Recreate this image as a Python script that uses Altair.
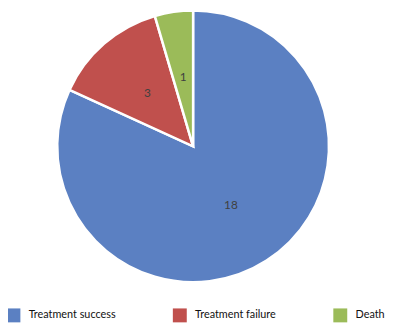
import altair as alt
import pandas as pd

categories = ["Treatment success", "Treatment failure", "Death"]
values = [18, 3, 1]
colors = ["#5B80C2", "#C0504D", "#9BBB59"]

df = pd.DataFrame({"category": categories, "value": values, "order": [0, 1, 2]})

base = alt.Chart(df).encode(
    theta=alt.Theta("value:Q", stack=True),
    order=alt.Order("order:Q"),
)

CX, CY, R = 188, 138, 138

pie = base.mark_arc(outerRadius=R, stroke="white", strokeWidth=2.5).encode(
    x=alt.value(CX),
    y=alt.value(CY),
    color=alt.Color(
        "category:N",
        sort=categories,
        scale=alt.Scale(domain=categories, range=colors),
        legend=alt.Legend(
            title=None,
            orient="none",
            direction="horizontal",
            legendX=-2,
            legendY=302,
            padding=0,
            symbolType="square",
            symbolSize=200,
            symbolStrokeWidth=0,
            labelFont="Lato",
            labelFontSize=11,
            labelColor="#111111",
            columnPadding=57,
            labelOffset=8,
        ),
    ),
)

labels = base.mark_text(radius=71, font="Lato", fontSize=12, color="#404040").encode(
    x=alt.value(CX),
    y=alt.value(CY),
    text="value:Q",
)

chart = (pie + labels).properties(
    width=388, height=319, padding=0, autosize=alt.AutoSizeParams(type="none")
).configure_view(stroke=None)

chart.save("out.html", embed_options={"renderer": "svg", "actions": False})
